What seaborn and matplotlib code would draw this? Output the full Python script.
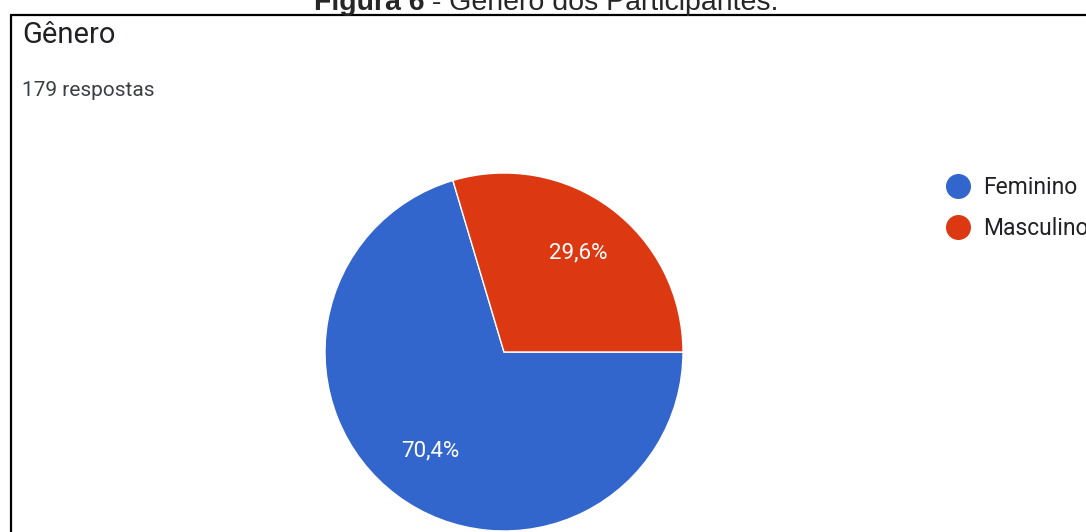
import matplotlib
matplotlib.use("Agg")
import matplotlib.pyplot as plt
from matplotlib.lines import Line2D
import seaborn as sns

# Data: Gênero dos participantes (179 respostas)
categorias = ["Feminino", "Masculino"]
respostas = [126, 53]
cores = ["#3366CC", "#DC3912"]
total_texto = "179 respostas"

sns.set_theme(style="white")
plt.rcParams["font.family"] = ["Roboto", "DejaVu Sans"]

W, H = 1086, 532
fig = plt.figure(figsize=(W / 100, H / 100), dpi=100)
fig.patch.set_facecolor("white")


def fx(x):
    return x / W


def fy(y):
    return 1 - y / H


# caption above the box (bold part + normal part), cut at the top like the original
t1 = fig.text(fx(314), fy(10), "Figura 6", fontsize=20.5, fontweight="bold",
              family=["Liberation Sans", "DejaVu Sans"], va="baseline")
fig.canvas.draw()
bb = t1.get_window_extent(fig.canvas.get_renderer())
fig.text(bb.x1 / W, fy(10), " - Gênero dos Participantes.", fontsize=20.5,
         family=["Liberation Sans", "DejaVu Sans"], va="baseline")

# frame of the card (top and left borders)
fig.add_artist(Line2D([fx(11), fx(1100)], [fy(15), fy(15)], color="black", lw=1.6))
fig.add_artist(Line2D([fx(11), fx(11)], [fy(15), fy(540)], color="black", lw=1.6))

fig.text(fx(22), fy(43), "Gênero", fontsize=21, color="#202124", va="baseline")
fig.text(fx(22), fy(96), total_texto, fontsize=15, color="#3c4043", va="baseline")

# pie
ax = fig.add_axes([fx(325), fy(531), 358 / W, 358 / H])
wedges, _, autotexts = ax.pie(
    respostas,
    colors=sns.color_palette(cores),
    startangle=0,
    counterclock=False,
    autopct=lambda p: f"{p:.1f}%".replace(".", ","),
    pctdistance=0.69,
    wedgeprops=dict(edgecolor="white", linewidth=1),
    textprops=dict(color="white", fontsize=16),
)
ax.set_xlim(-1, 1)
ax.set_ylim(-1, 1)
ax.set_aspect("equal")
ax.axis("off")

handles = [Line2D([0], [0], marker="o", color="none", markerfacecolor=c,
                  markeredgecolor=c, markersize=17) for c in cores]
fig.legend(handles, categorias, loc="upper left",
           bbox_to_anchor=(fx(945), fy(176)), frameon=False,
           borderpad=0, borderaxespad=0, handlelength=1.1,
           handletextpad=0.55, labelspacing=0.8, fontsize=16.5,
           labelcolor="#202124")

fig.savefig("out.png", dpi=100, facecolor="white")
